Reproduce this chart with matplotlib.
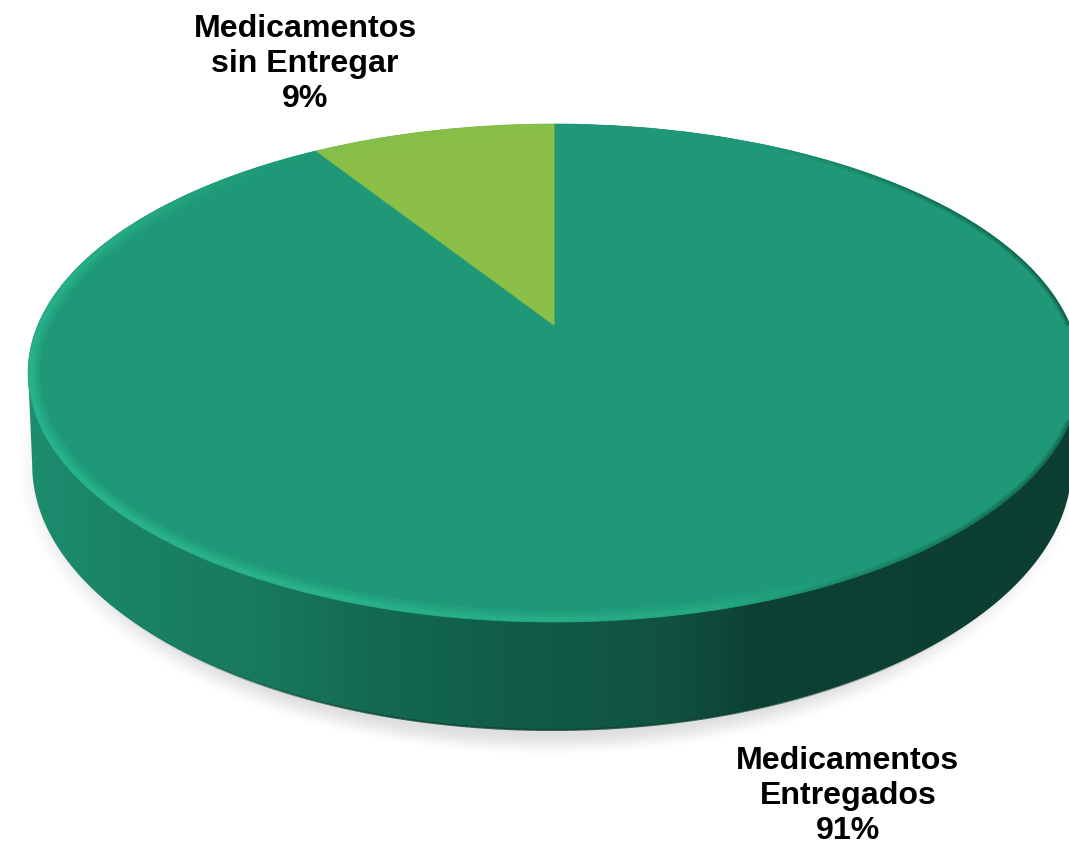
import numpy as np
import matplotlib
matplotlib.use("Agg")
import matplotlib.pyplot as plt
from matplotlib.collections import LineCollection
from matplotlib.colors import LinearSegmentedColormap, to_rgb
from matplotlib.patches import PathPatch
from matplotlib.path import Path
from matplotlib.transforms import Transform

# data
categorias = ["Medicamentos\nEntregados", "Medicamentos\nsin Entregar"]
porcentajes = [91, 9]
colores = ["#1e9876", "#8bbf47"]

# the pie is a unit circle seen in perspective
K = 0.193


class Perspective(Transform):
    input_dims = 2
    output_dims = 2
    has_inverse = False

    def __init__(self, cx, cy, a, b):
        super().__init__()
        self.cx, self.cy, self.a, self.b = cx, cy, a, b

    def transform_non_affine(self, values):
        values = np.asarray(values, dtype=float)
        w = 1 + K * values[:, 1]
        return np.column_stack([self.cx + self.a * values[:, 0] / w,
                                self.cy - self.b * values[:, 1] / w])


top = Perspective(554, 325, 516, 239.7)
bottom = Perspective(552, 414, 510, 255)


def arc(disc, t0, t1, n=300):
    t = np.radians(np.linspace(t0, t1, n))
    return disc.transform(np.column_stack([np.cos(t), np.sin(t)]))


def rim(segs, color, alpha, layers, ax, clip):
    # stacked strokes give a soft edge
    for width, a in layers:
        col = np.zeros((len(segs), 4))
        col[:, :3] = to_rgb(color)
        col[:, 3] = alpha * a
        lc = LineCollection(segs, colors=col, linewidths=width * 0.72, capstyle="butt", zorder=4)
        ax.add_collection(lc)
        lc.set_clip_path(clip)


fig = plt.figure(figsize=(10.69, 8.43), dpi=100)
ax = fig.add_axes([0, 0, 1, 1])

wedges, _ = ax.pie(porcentajes, colors=colores, startangle=90, counterclock=False,
                   radius=1, wedgeprops={"linewidth": 0})
for w, c in zip(wedges, colores):
    w.set_transform(top + ax.transData)
    w.set_edgecolor(c)
    w.set_linewidth(0.6)
    w.set_zorder(3)
ax.set_aspect("auto")

# soft shadow under the disc
yy, xx = np.mgrid[0:843, 0:1069]
r = np.sqrt(((xx - 548) / 536) ** 2 + ((yy - 465) / 292) ** 2)
sombra = np.clip((1.0 - r) / 0.085, 0, 1)
sombra = sombra * sombra * (3 - 2 * sombra) * 0.13
rgba = np.zeros((843, 1069, 4))
rgba[..., 3] = sombra
ax.imshow(rgba, extent=(0, 1069, 843, 0), aspect="auto", zorder=1)

# side wall
tw = np.degrees(np.arcsin(K))
wall = np.vstack([arc(top, 180 + tw, -tw), arc(bottom, 360 - tw, 180 + tw)])
wall_patch = PathPatch(Path(np.vstack([wall, wall[:1]]), closed=True), fc="none", ec="none",
                       transform=ax.transData)
ax.add_patch(wall_patch)
grad_cmap = LinearSegmentedColormap.from_list("pared", [
    (0.00, "#1c8d6e"), (0.10, "#1a8265"), (0.22, "#187a5d"), (0.33, "#146a51"),
    (0.47, "#115c48"), (0.62, "#10523f"), (0.70, "#0c4133"), (1.00, "#0c3f31")])
im = ax.imshow(np.linspace(0, 1, 512)[None, :], extent=(27, 1069, 843, 0), aspect="auto",
               cmap=grad_cmap, zorder=2)
im.set_clip_path(wall_patch)

# dark line on the lower edge of the wall, fading at both ends
t_borde = np.linspace(225, 315, 181)
p_borde = arc(bottom, 225, 315, 181)
a_borde = np.interp((t_borde[:-1] + t_borde[1:]) / 2, [225, 255, 285, 315], [0, 0.8, 0.8, 0])
c_borde = np.zeros((180, 4))
c_borde[:, :3] = to_rgb("#0c3f31")
c_borde[:, 3] = a_borde
lc_borde = LineCollection(np.stack([p_borde[:-1], p_borde[1:]], axis=1), colors=c_borde,
                          linewidths=1.5, capstyle="butt", zorder=2.5)
ax.add_collection(lc_borde)

# bevel around the top face
th = np.linspace(90, 450, 721)
pts = arc(top, 90, 450, 721)
segs = np.stack([pts[:-1], pts[1:]], axis=1)
tm = (th[:-1] + th[1:]) / 2
luz = np.interp(tm, [90, 130, 165, 200, 250, 285, 300, 450], [0, 0.1, 0.8, 1, 0.95, 0.55, 0, 0])
osc = np.interp(tm, [90, 285, 315, 360, 395, 420, 450], [0, 0, 0.6, 1, 0.7, 0, 0])
top_patch = PathPatch(Path(np.vstack([pts, pts[:1]]), closed=True), fc="none", ec="none",
                      transform=ax.transData)
ax.add_patch(top_patch)
rim(segs, "#2fc096", luz, [(24, 0.22), (17, 0.3), (10, 0.4)], ax, top_patch)
rim(segs, "#0c3f31", osc, [(9, 0.18), (6, 0.25), (3, 0.35)], ax, top_patch)

# labels
fuente = dict(family=["Liberation Sans", "DejaVu Sans"], fontweight="bold", fontsize=23.1,
              ha="center", va="center", linespacing=1.23, color="black", zorder=6)
ax.text(848, 796, f"{categorias[0]}\n{porcentajes[0]}%", **fuente)
ax.text(305, 64, f"{categorias[1]}\n{porcentajes[1]}%", **fuente)

ax.set_xlim(0, 1069)
ax.set_ylim(843, 0)
ax.axis("off")

fig.savefig("out.png", dpi=100)
